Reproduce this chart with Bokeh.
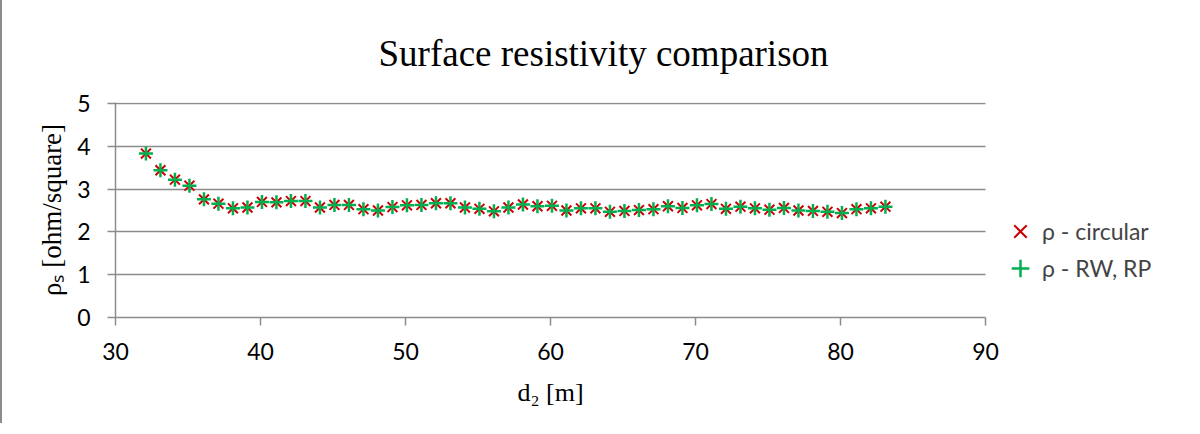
from bokeh.plotting import figure
from bokeh.models import Range1d, FixedTicker, Legend, LegendItem, BoxAnnotation, Title
from bokeh.embed import file_html
from bokeh.resources import INLINE

# ---------------- data ----------------
d2 = [32.1, 33.1, 34.1, 35.1, 36.1, 37.1, 38.1, 39.1, 40.1, 41.1,
      42.1, 43.1, 44.1, 45.1, 46.1, 47.1, 48.1, 49.1, 50.1, 51.1,
      52.1, 53.1, 54.1, 55.1, 56.1, 57.1, 58.1, 59.1, 60.1, 61.1,
      62.1, 63.1, 64.1, 65.1, 66.1, 67.1, 68.1, 69.1, 70.1, 71.1,
      72.1, 73.1, 74.1, 75.1, 76.1, 77.1, 78.1, 79.1, 80.1, 81.1,
      82.1, 83.1]
rho_circular = [3.83, 3.44, 3.22, 3.08, 2.76, 2.66, 2.55, 2.57, 2.70, 2.69,
                2.72, 2.72, 2.57, 2.63, 2.63, 2.53, 2.50, 2.58, 2.62, 2.63,
                2.67, 2.67, 2.57, 2.54, 2.48, 2.57, 2.64, 2.60, 2.61, 2.50,
                2.55, 2.55, 2.47, 2.49, 2.51, 2.53, 2.60, 2.56, 2.62, 2.65,
                2.54, 2.59, 2.55, 2.52, 2.56, 2.50, 2.49, 2.47, 2.44, 2.53,
                2.55, 2.59]
rho_rw_rp = [3.83, 3.44, 3.22, 3.08, 2.76, 2.66, 2.55, 2.57, 2.70, 2.69,
             2.72, 2.72, 2.57, 2.63, 2.63, 2.53, 2.50, 2.58, 2.62, 2.63,
             2.67, 2.67, 2.57, 2.54, 2.48, 2.57, 2.64, 2.60, 2.61, 2.50,
             2.55, 2.55, 2.47, 2.49, 2.51, 2.53, 2.60, 2.56, 2.62, 2.65,
             2.54, 2.59, 2.55, 2.52, 2.56, 2.50, 2.49, 2.47, 2.44, 2.53,
             2.55, 2.59]
x_ticks = [30, 40, 50, 60, 70, 80, 90]
y_ticks = [0, 1, 2, 3, 4, 5]
series_names = ["ρ - circular", "ρ - RW, RP"]
title_text = "Surface resistivity comparison"
x_label = "d₂ [m]"
y_label = "ρₛ [ohm/square]"

# ---------------- figure ----------------
LEFT = 113
FRAME_W = 1071
FRAME_H = 215
PX_PER_X = 14.5          # pixels per metre on the x axis
X_END = 30 + FRAME_W / PX_PER_X   # frame runs on to the right to hold the legend
p = figure(frame_width=FRAME_W, frame_height=FRAME_H,
           output_backend="svg", toolbar_location=None,
           x_range=Range1d(30, X_END), y_range=Range1d(0, 5.0234),
           min_border_left=LEFT, min_border_right=0,
           min_border_top=102, min_border_bottom=101)
p.background_fill_color = "white"
p.border_fill_color = "white"
p.outline_line_color = None
p.styles = {"border-left": "2px solid #8c8c8c"}

GRID = "#8c8c8c"
p.xgrid.visible = False
p.ygrid.grid_line_color = GRID
p.ygrid.grid_line_width = 1.5
try:
    p.ygrid.cross_bounds = (x_ticks[0], x_ticks[-1])
except Exception:
    p.add_layout(BoxAnnotation(left=x_ticks[-1] + 0.05, fill_color="white",
                               fill_alpha=1, line_alpha=0, level="underlay"))

p.xaxis.ticker = FixedTicker(ticks=x_ticks)
p.yaxis.ticker = FixedTicker(ticks=y_ticks)
p.xaxis.bounds = (x_ticks[0], x_ticks[-1])
for ax in (p.xaxis, p.yaxis):
    ax.axis_line_color = GRID
    ax.axis_line_width = 1.5
    ax.major_tick_line_color = GRID
    ax.major_tick_line_width = 1.5
    ax.major_tick_out = 8
    ax.major_tick_in = 0
    ax.minor_tick_line_color = None
    ax.major_label_text_font = "Lato"
    ax.major_label_text_font_size = "23px"
    ax.major_label_text_color = "black"
p.xaxis.major_label_standoff = 17
p.yaxis.major_label_standoff = 17
p.yaxis.axis_label = y_label
p.yaxis.axis_label_text_font = "Liberation Serif"
p.yaxis.axis_label_text_font_style = "normal"
p.yaxis.axis_label_text_color = "black"
p.yaxis.axis_label_text_font_size = "27px"
p.yaxis.axis_label_standoff = 7

# chart title
p.title.text = title_text
p.title.text_font = "Liberation Serif"
p.title.text_font_size = "37px"
p.title.text_font_style = "normal"
p.title.text_color = "black"
p.title.align = "left"
p.title.offset = 263
p.title.standoff = 58
p.title.vertical_align = "bottom"

# x axis title, centred under the 30-90 axis (frame extends further right)
p.add_layout(Title(text=x_label, text_font="Liberation Serif",
                   text_font_size="26px", text_font_style="normal",
                   text_color="black", align="left", offset=402,
                   vertical_align="top", standoff=30), "below")

r1 = p.scatter(d2, rho_circular, marker="x", size=14,
               line_color="#CC0000", line_width=2)
r2 = p.scatter(d2, rho_rw_rp, marker="cross", size=14,
               line_color="#00B050", line_width=2.5)

common = dict(padding=0, margin=0, spacing=0,
              glyph_width=44, glyph_height=44, label_height=44,
              label_standoff=0, label_text_font="Lato",
              label_text_font_size="23px", border_line_color=None,
              background_fill_alpha=0)
leg1 = Legend(items=[LegendItem(label=series_names[0], renderers=[r1])],
              location=(883, 64), **common)
leg2 = Legend(items=[LegendItem(label=series_names[1], renderers=[r2])],
              location=(883, 27), **common)
p.add_layout(leg1, "center")
p.add_layout(leg2, "center")

open("out.html", "w").write(file_html(p, INLINE))
